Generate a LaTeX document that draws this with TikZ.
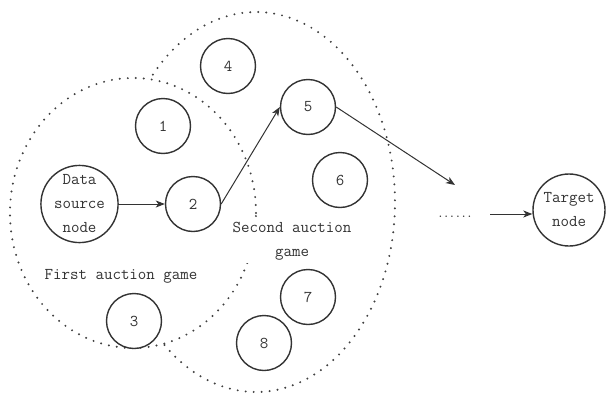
\documentclass[tikz,border=0pt]{standalone}
\usetikzlibrary{arrows.meta,calc}
\begin{document}
\begin{tikzpicture}[x=1pt,y=1pt,
  every node/.style={font=\fontsize{16.5}{24}\selectfont\ttfamily, text=black!80},
  agent/.style={circle, draw=black!80, line width=1.4pt, fill=white,
                minimum size=55pt, inner sep=0pt},
  bignode/.style={agent, minimum size=75pt, align=center},
  link/.style={draw=black!80, line width=1pt,
               -{Stealth[length=9pt,width=7pt,inset=2.5pt]}},
  region/.style={draw=black!75, line width=2.2pt, line cap=round,
                 dash pattern=on 0pt off 8pt}]
\useasboundingbox (0,0) rectangle (608,-394);
\fill[white] (0,0) rectangle (608,-394);

% auction regions
\draw[region] (133,-213) ellipse [x radius=123, y radius=135];
\draw[region] (256,-202) ++(-131.2:139 and 190)
  arc[start angle=-131.2, end angle=139.2, x radius=139, y radius=190];

% region labels
\node[fill=white, align=center, inner sep=2pt] (second) at (292,-241.5) {Second auction\\game};
\node (first) at (121,-276) {First auction game};

% nodes
\node[bignode] (src) at (79.5,-204) {Data\\source\\node};
\node[agent] (n1) at (163,-126) {1};
\node[agent] (n2) at (193,-204) {2};
\node[agent] (n3) at (134,-321) {3};
\node[agent] (n4) at (228,-66) {4};
\node[agent] (n5) at (308,-107) {5};
\node[agent] (n6) at (340,-180) {6};
\node[agent] (n7) at (308,-297) {7};
\node[agent] (n8) at (264,-343) {8};
\node[bignode, minimum size=72pt] (tg) at (569,-210) {Target\\node};
\node[font=\fontsize{11}{13}\selectfont\ttfamily\bfseries, anchor=base] (dots) at (455,-217) {......};

% connectors
\coordinate (c1) at (455,-185);
\coordinate (c2) at (490,-214);
\draw[link] (src) -- (n2);
\draw[link] (n2.east) -- (n5.west);
\draw[link] (n5.east) -- (c1);
\draw[link] (c2) -- (c2 -| tg.west);
\end{tikzpicture}
\end{document}
